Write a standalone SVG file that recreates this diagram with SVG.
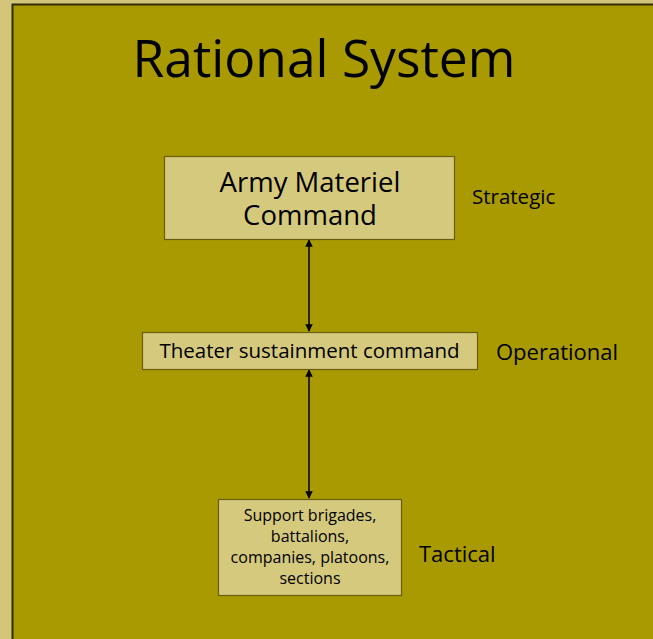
<svg xmlns="http://www.w3.org/2000/svg" width="653" height="639" viewBox="0 0 653 639">
<defs>
<style>
text{font-family:"Open Sans","Noto Sans","DejaVu Sans",sans-serif;fill:#000;}
.box{fill:#D5C97E;stroke:#6A5F10;stroke-width:1.2;}
.sm{font-size:16px;}
.conn{stroke:#000;stroke-width:1.5;fill:none;marker-start:url(#ah);marker-end:url(#ah);}
</style>
<marker id="ah" viewBox="0 0 10 10" refX="9" refY="5" markerWidth="5" markerHeight="5" orient="auto-start-reverse" markerUnits="strokeWidth">
<path d="M0,0 L10,5 L0,10 z" fill="#000"/>
</marker>
</defs>
<rect x="0" y="0" width="653" height="639" fill="#D3C67A"/>
<rect x="12" y="4" width="641" height="635" fill="#A89A00"/>
<path d="M12.5,639 V4.5 H653" stroke="#2E2A05" stroke-width="2" fill="none"/>
<text x="324" y="77" font-size="51.5" text-anchor="middle">Rational System</text>
<g id="connectors">
<line class="conn" x1="309" y1="240" x2="309" y2="331"/>
<line class="conn" x1="309" y1="370" x2="309" y2="498"/>
</g>
<g id="amc">
<rect class="box" x="164.5" y="156.5" width="290" height="83"/>
<text x="310" y="192" font-size="27.5" text-anchor="middle">Army Materiel</text>
<text x="310" y="225" font-size="27.5" text-anchor="middle">Command</text>
</g>
<g id="tsc">
<rect class="box" x="142.5" y="332.5" width="335" height="37"/>
<text x="309.5" y="358" font-size="20.5" text-anchor="middle">Theater sustainment command</text>
</g>
<g id="tactical-box">
<rect class="box" x="218.5" y="499.5" width="183" height="96"/>
<text class="sm" x="310" y="521" text-anchor="middle">Support brigades,</text>
<text class="sm" x="310" y="542" text-anchor="middle">battalions,</text>
<text class="sm" x="310" y="563" text-anchor="middle">companies, platoons,</text>
<text class="sm" x="310" y="584" text-anchor="middle">sections</text>
</g>
<g id="labels">
<text x="472" y="204" font-size="20.5">Strategic</text>
<text x="496" y="360" font-size="22">Operational</text>
<text x="419" y="562" font-size="22">Tactical</text>
</g>
</svg>
